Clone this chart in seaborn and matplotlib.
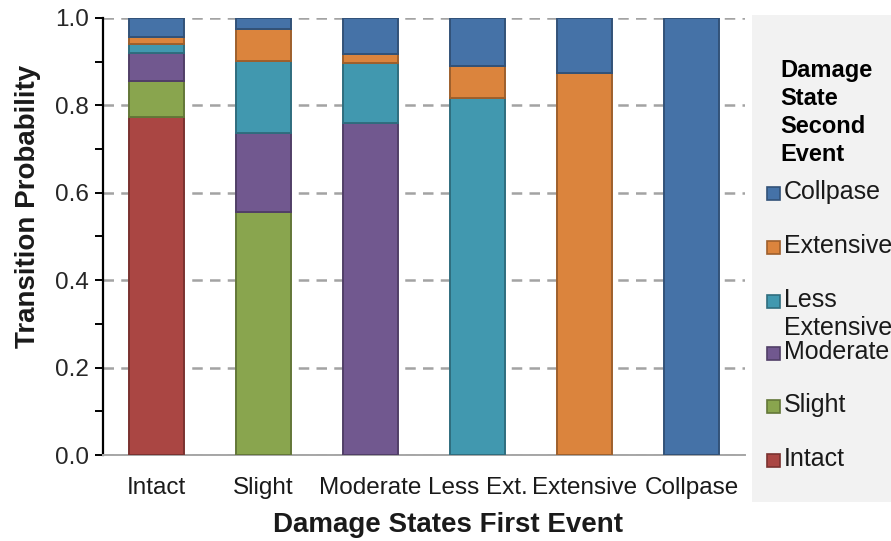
import numpy as np
import pandas as pd
import matplotlib
matplotlib.use("Agg")
import matplotlib.pyplot as plt
import matplotlib.colors as mcolors
from matplotlib.patches import Rectangle
from matplotlib.ticker import MultipleLocator, FormatStrFormatter
import seaborn as sns

# Damage state reached in the first event (x categories)
first_event = ["Intact", "Slight", "Moderate", "Less Ext.", "Extensive", "Collpase"]

# Transition probabilities to each second-event damage state (stacked bottom -> top)
p_intact    = [0.773, 0.000, 0.000, 0.000, 0.000, 0.000]
p_slight    = [0.083, 0.556, 0.000, 0.000, 0.000, 0.000]
p_moderate  = [0.063, 0.181, 0.759, 0.000, 0.000, 0.000]
p_less_ext  = [0.021, 0.165, 0.137, 0.818, 0.000, 0.000]
p_extensive = [0.016, 0.072, 0.022, 0.072, 0.873, 0.000]
p_collapse  = [0.044, 0.026, 0.082, 0.110, 0.127, 1.000]

second_event = ["Intact", "Slight", "Moderate", "Less\nExtensive", "Extensive", "Collpase"]
series = [p_intact, p_slight, p_moderate, p_less_ext, p_extensive, p_collapse]
colors = ["#AA4643", "#89A54E", "#71588F", "#4198AF", "#DB843D", "#4572A7"]

sns.set_style("white")
plt.rcParams["font.family"] = ["Liberation Sans", "DejaVu Sans"]

W, H = 891, 541


def darker(c, f=0.72):
    r, g, b = mcolors.to_rgb(c)
    return (r * f, g * f, b * f)


fig = plt.figure(figsize=(W / 100, H / 100), dpi=100)
ax = fig.add_axes([103 / W, 1 - 455 / H, 642 / W, 437 / H])

df = pd.DataFrame({"first": first_event})
bottom = np.zeros(len(first_event))
for name, vals, col in zip(second_event, series, colors):
    vals = np.asarray(vals, dtype=float)
    df["p"] = vals
    sns.barplot(data=df, x="first", y="p", order=first_event, color=col,
                bottom=bottom.copy(), width=0.51, edgecolor=darker(col),
                linewidth=1.4, errorbar=None, saturation=1, ax=ax, zorder=3)
    bottom += vals

# hide empty segments
for p in ax.patches:
    if abs(p.get_height()) < 1e-9:
        p.set_visible(False)

ax.set_ylim(0, 1.0)
ax.set_xlim(-0.5, 5.5)
ax.yaxis.set_major_locator(MultipleLocator(0.2))
ax.yaxis.set_minor_locator(MultipleLocator(0.1))
ax.yaxis.set_major_formatter(FormatStrFormatter("%.1f"))
ax.grid(axis="y", which="major", color="#a3a3a3", linestyle=(0, (4.2, 2.9)),
        linewidth=1.8, zorder=0)
ax.grid(axis="x", visible=False)
ax.set_axisbelow(True)

for s in ["top", "right"]:
    ax.spines[s].set_visible(False)
ax.spines["left"].set_color("black")
ax.spines["left"].set_linewidth(1.6)
ax.spines["bottom"].set_color("#a6a6a6")
ax.spines["bottom"].set_linewidth(1.4)

ax.tick_params(axis="y", which="both", direction="out", left=True, length=5.8,
               width=1.4, color="black", labelsize=17.5, labelcolor="#262626", pad=4.5)
ax.tick_params(axis="x", bottom=False, labelsize=17.5, labelcolor="#1a1a1a", pad=12)

ax.set_xlabel("Damage States First Event", fontsize=20, fontweight="bold",
              color="#1a1a1a")
ax.set_ylabel("Transition Probability", fontsize=20, fontweight="bold",
              color="#1a1a1a")
ax.xaxis.set_label_coords((448 - 103) / 642, -(525 - 455) / 437)
ax.xaxis.label.set_va("center")
ax.yaxis.set_label_coords(-(103 - 28) / 642, (455 - 206) / 437)
ax.yaxis.label.set_va("center")

# legend panel
fig.patches.append(Rectangle((752 / W, 1 - 502 / H), (W - 752) / W, 487 / H,
                             transform=fig.transFigure, facecolor="#f2f2f2",
                             edgecolor="none", zorder=0))
fig.text(780 / W, 1 - 59 / H, "Damage\nState\nSecond\nEvent", fontsize=17,
         fontweight="bold", va="top", ha="left", linespacing=1.27,
         color="black")

legend_rows = [("Collpase", 193), ("Extensive", 247), ("Less\nExtensive", 301),
               ("Moderate", 353), ("Slight", 406), ("Intact", 460)]
legend_colors = {n: c for n, c in zip(second_event, colors)}
for label, ypix in legend_rows:
    col = legend_colors[label]
    fig.patches.append(Rectangle((767 / W, 1 - (ypix + 6.5) / H), 13 / W, 13 / H,
                                 transform=fig.transFigure, facecolor=col,
                                 edgecolor=darker(col), linewidth=1.2, zorder=2))
    fig.text(784 / W, 1 - (ypix - 13) / H, label, fontsize=18, va="top",
             ha="left", color="#1a1a1a", linespacing=1.2)

fig.savefig("out.png", dpi=100)
